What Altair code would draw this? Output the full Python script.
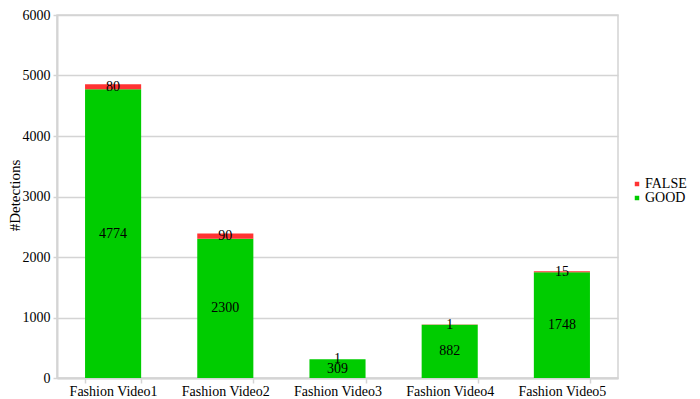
import altair as alt
import pandas as pd

videos = ["Fashion Video1", "Fashion Video2", "Fashion Video3", "Fashion Video4", "Fashion Video5"]
good = [4774, 2300, 309, 882, 1748]
false_ = [80, 90, 1, 1, 15]

rows = []
for v, g, f in zip(videos, good, false_):
    rows.append({"Video": v, "Type": "GOOD", "Count": g, "order": 0, "mid": g / 2})
    rows.append({"Video": v, "Type": "FALSE", "Count": f, "order": 1, "mid": g + f / 2})
df = pd.DataFrame(rows)

FONT = "Liberation Serif"
GRID = "#d4d4d4"

x = alt.X(
    "Video:N",
    sort=videos,
    scale=alt.Scale(paddingInner=0.5, paddingOuter=0.25),
    axis=alt.Axis(
        title=None, labelAngle=0, tickBand="extent", grid=False,
        labelFont=FONT, labelFontSize=14, labelColor="black", labelPadding=1,
        domainColor=GRID, domainWidth=2, tickColor=GRID, tickWidth=1.5, tickSize=5,
    ),
)

bars = alt.Chart(df).mark_bar().encode(
    x=x,
    y=alt.Y(
        "Count:Q",
        stack="zero",
        scale=alt.Scale(domain=[0, 6000], nice=False),
        axis=alt.Axis(
            title="#Detections", values=[0, 1000, 2000, 3000, 4000, 5000, 6000], format="d",
            labelFont=FONT, labelFontSize=14, labelColor="black", labelPadding=3,
            titleFont=FONT, titleFontSize=15, titleFontWeight="normal", titleColor="black",
            titleX=-35, titleY=180,
            gridColor=GRID, gridWidth=1.5, domainColor=GRID, domainWidth=2,
            tickColor=GRID, tickSize=4, tickWidth=1.5,
        ),
    ),
    color=alt.Color(
        "Type:N",
        scale=alt.Scale(domain=["FALSE", "GOOD"], range=["#ff3333", "#00cc00"]),
        legend=alt.Legend(
            title=None, orient="none", legendX=573, legendY=162,
            symbolType="square", symbolSize=20, symbolStrokeWidth=0,
            labelFont=FONT, labelFontSize=14, labelColor="black", labelOffset=1,
            rowPadding=-2,
        ),
    ),
    order=alt.Order("order:Q"),
)

labels = alt.Chart(df).mark_text(font=FONT, fontSize=14, color="black", baseline="middle").encode(
    x=alt.X("Video:N", sort=videos),
    y=alt.Y("mid:Q"),
    text=alt.Text("Count:Q"),
)

chart = (
    alt.layer(bars, labels)
    .properties(
        width=561, height=363,
        autosize=alt.AutoSizeParams(type="none"),
        padding={"left": 49, "top": 7, "right": 74, "bottom": 20},
        background="white",
    )
    .configure_view(stroke=GRID, strokeWidth=1.5)
)

chart.save("out.html", embed_options={"renderer": "svg", "actions": False})
